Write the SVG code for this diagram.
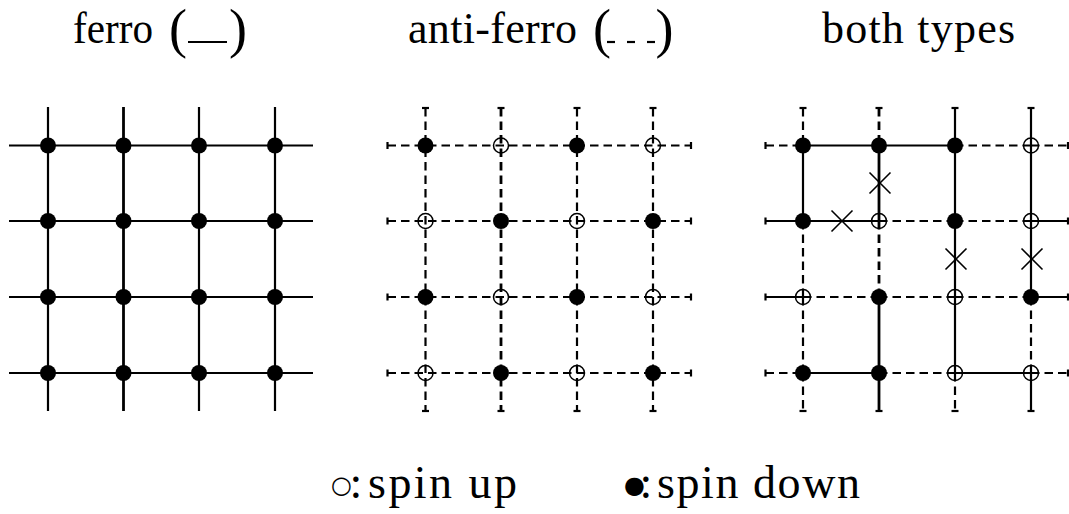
<svg xmlns="http://www.w3.org/2000/svg" width="1069" height="514" viewBox="0 0 1069 514">
<style>
text{font-family:"Liberation Serif","Times New Roman",serif;fill:#000}
.t{font-size:44px}
.p{font-size:54px}
.lg{font-size:46px}
.sym{font-size:24px;font-family:"DejaVu Sans",sans-serif;letter-spacing:-8px}
.s{stroke:#000;stroke-width:2.2;fill:none}
.s2{stroke:#000;stroke-width:2.8;fill:none}
.d{stroke:#000;stroke-width:2.2;fill:none;stroke-dasharray:8.5 5}
.d2{stroke:#000;stroke-width:2.8;fill:none;stroke-dasharray:8.5 5}
.tk{stroke:#000;stroke-width:2.2}
.f{fill:#000}
.o{fill:none;stroke:#000;stroke-width:1.5}
.x{stroke:#000;stroke-width:1.6}
</style>
<rect width="1069" height="514" fill="#fff"/>

<g id="titles">
<text class="t" y="43"><tspan x="73" textLength="80" lengthAdjust="spacingAndGlyphs">ferro</tspan><tspan class="p" x="169" y="47">(</tspan></text>
<line x1="188" y1="42" x2="227" y2="42" class="s"/>
<text class="p" x="229" y="47">)</text>
<text class="t" y="43"><tspan x="408" textLength="169" lengthAdjust="spacing">anti-ferro</tspan><tspan class="p" x="593" y="47">(</tspan></text>
<line x1="607" y1="42" x2="615" y2="42" class="s"/>
<line x1="627" y1="42" x2="635" y2="42" class="s"/>
<line x1="647" y1="42" x2="655" y2="42" class="s"/>
<text class="p" x="655.5" y="47">)</text>
<text class="t" x="822" y="43" textLength="193" lengthAdjust="spacing">both types</text>
</g>

<g id="connectors">
<!-- grid 1: ferro -->
<line x1="9" y1="145.5" x2="313" y2="145.5" class="s"/>
<line x1="9" y1="221" x2="313" y2="221" class="s"/>
<line x1="9" y1="297" x2="313" y2="297" class="s"/>
<line x1="9" y1="373" x2="313" y2="373" class="s"/>
<line x1="48" y1="107" x2="48" y2="411" class="s"/>
<line x1="123.5" y1="107" x2="123.5" y2="411" class="s2"/>
<line x1="199" y1="107" x2="199" y2="411" class="s"/>
<line x1="275" y1="107" x2="275" y2="411" class="s"/>

<!-- grid 2: anti-ferro -->
<line x1="387.5" y1="145.5" x2="691" y2="145.5" class="d"/>
<line x1="387.5" y1="221" x2="691" y2="221" class="d"/>
<line x1="387.5" y1="297" x2="691" y2="297" class="d"/>
<line x1="387.5" y1="373" x2="691" y2="373" class="d"/>
<line x1="425.5" y1="108" x2="425.5" y2="411" class="d"/>
<line x1="501" y1="108" x2="501" y2="411" class="d2"/>
<line x1="577" y1="108" x2="577" y2="411" class="d"/>
<line x1="653" y1="108" x2="653" y2="411" class="d"/>
<g class="tk">
<line x1="387.5" y1="142" x2="387.5" y2="149"/><line x1="691" y1="142" x2="691" y2="149"/>
<line x1="387.5" y1="217.5" x2="387.5" y2="224.5"/><line x1="691" y1="217.5" x2="691" y2="224.5"/>
<line x1="387.5" y1="293.5" x2="387.5" y2="300.5"/><line x1="691" y1="293.5" x2="691" y2="300.5"/>
<line x1="387.5" y1="369.5" x2="387.5" y2="376.5"/><line x1="691" y1="369.5" x2="691" y2="376.5"/>
<line x1="422" y1="108" x2="429" y2="108"/><line x1="422" y1="411" x2="429" y2="411"/>
<line x1="497.5" y1="108" x2="504.5" y2="108"/><line x1="497.5" y1="411" x2="504.5" y2="411"/>
<line x1="573.5" y1="108" x2="580.5" y2="108"/><line x1="573.5" y1="411" x2="580.5" y2="411"/>
<line x1="649.5" y1="108" x2="656.5" y2="108"/><line x1="649.5" y1="411" x2="656.5" y2="411"/>
</g>

<!-- grid 3: both types -->
<line x1="765.5" y1="145.5" x2="803" y2="145.5" class="d"/>
<line x1="803" y1="145.5" x2="879" y2="145.5" class="s"/>
<line x1="879" y1="145.5" x2="955" y2="145.5" class="s"/>
<line x1="955" y1="145.5" x2="1031" y2="145.5" class="d"/>
<line x1="1031" y1="145.5" x2="1068.5" y2="145.5" class="d"/>
<line x1="765.5" y1="221" x2="803" y2="221" class="s"/>
<line x1="803" y1="221" x2="879" y2="221" class="s"/>
<line x1="879" y1="221" x2="955" y2="221" class="d"/>
<line x1="955" y1="221" x2="1031" y2="221" class="d"/>
<line x1="1031" y1="221" x2="1068.5" y2="221" class="s"/>
<line x1="765.5" y1="297" x2="803" y2="297" class="s"/>
<line x1="803" y1="297" x2="879" y2="297" class="d"/>
<line x1="879" y1="297" x2="955" y2="297" class="d"/>
<line x1="955" y1="297" x2="1031" y2="297" class="d"/>
<line x1="1031" y1="297" x2="1068.5" y2="297" class="s"/>
<line x1="765.5" y1="373" x2="803" y2="373" class="d"/>
<line x1="803" y1="373" x2="879" y2="373" class="s"/>
<line x1="879" y1="373" x2="955" y2="373" class="d"/>
<line x1="955" y1="373" x2="1031" y2="373" class="s"/>
<line x1="1031" y1="373" x2="1068.5" y2="373" class="d"/>
<line x1="803" y1="108" x2="803" y2="145.5" class="d"/>
<line x1="803" y1="145.5" x2="803" y2="221" class="s"/>
<line x1="803" y1="221" x2="803" y2="297" class="d"/>
<line x1="803" y1="297" x2="803" y2="373" class="d"/>
<line x1="803" y1="373" x2="803" y2="411" class="d"/>
<line x1="879" y1="108" x2="879" y2="145.5" class="d2"/>
<line x1="879" y1="145.5" x2="879" y2="221" class="s2"/>
<line x1="879" y1="221" x2="879" y2="297" class="d2"/>
<line x1="879" y1="297" x2="879" y2="373" class="s2"/>
<line x1="879" y1="373" x2="879" y2="411" class="s2"/>
<line x1="955" y1="108" x2="955" y2="145.5" class="s"/>
<line x1="955" y1="145.5" x2="955" y2="221" class="s"/>
<line x1="955" y1="221" x2="955" y2="297" class="s"/>
<line x1="955" y1="297" x2="955" y2="373" class="s"/>
<line x1="955" y1="373" x2="955" y2="411" class="d"/>
<line x1="1031" y1="108" x2="1031" y2="145.5" class="s"/>
<line x1="1031" y1="145.5" x2="1031" y2="221" class="s"/>
<line x1="1031" y1="221" x2="1031" y2="297" class="s"/>
<line x1="1031" y1="297" x2="1031" y2="373" class="d"/>
<line x1="1031" y1="373" x2="1031" y2="411" class="s"/>
<g class="tk">
<line x1="765.5" y1="142" x2="765.5" y2="149"/><line x1="1068" y1="142" x2="1068" y2="149"/>
<line x1="765.5" y1="217.5" x2="765.5" y2="224.5"/><line x1="1068" y1="217.5" x2="1068" y2="224.5"/>
<line x1="765.5" y1="293.5" x2="765.5" y2="300.5"/><line x1="1068" y1="293.5" x2="1068" y2="300.5"/>
<line x1="765.5" y1="369.5" x2="765.5" y2="376.5"/><line x1="1068" y1="369.5" x2="1068" y2="376.5"/>
<line x1="799.5" y1="108" x2="806.5" y2="108"/><line x1="799.5" y1="411" x2="806.5" y2="411"/>
<line x1="875.5" y1="108" x2="882.5" y2="108"/><line x1="875.5" y1="411" x2="882.5" y2="411"/>
<line x1="951.5" y1="108" x2="958.5" y2="108"/><line x1="951.5" y1="411" x2="958.5" y2="411"/>
<line x1="1027.5" y1="108" x2="1034.5" y2="108"/><line x1="1027.5" y1="411" x2="1034.5" y2="411"/>
</g>
<g class="x">
<path d="M831.5,210.5 L852.5,231.5 M852.5,210.5 L831.5,231.5"/>
<path d="M869.5,172.5 L890.5,193.5 M890.5,172.5 L869.5,193.5"/>
<path d="M945.5,248.5 L966.5,269.5 M966.5,248.5 L945.5,269.5"/>
<path d="M1021.5,248.5 L1042.5,269.5 M1042.5,248.5 L1021.5,269.5"/>
</g>
</g>

<g id="g1-r1c1"><circle cx="48" cy="145.5" r="8" class="f"/></g>
<g id="g1-r1c2"><circle cx="123.5" cy="145.5" r="8" class="f"/></g>
<g id="g1-r1c3"><circle cx="199" cy="145.5" r="8" class="f"/></g>
<g id="g1-r1c4"><circle cx="275" cy="145.5" r="8" class="f"/></g>
<g id="g1-r2c1"><circle cx="48" cy="221" r="8" class="f"/></g>
<g id="g1-r2c2"><circle cx="123.5" cy="221" r="8" class="f"/></g>
<g id="g1-r2c3"><circle cx="199" cy="221" r="8" class="f"/></g>
<g id="g1-r2c4"><circle cx="275" cy="221" r="8" class="f"/></g>
<g id="g1-r3c1"><circle cx="48" cy="297" r="8" class="f"/></g>
<g id="g1-r3c2"><circle cx="123.5" cy="297" r="8" class="f"/></g>
<g id="g1-r3c3"><circle cx="199" cy="297" r="8" class="f"/></g>
<g id="g1-r3c4"><circle cx="275" cy="297" r="8" class="f"/></g>
<g id="g1-r4c1"><circle cx="48" cy="373" r="8" class="f"/></g>
<g id="g1-r4c2"><circle cx="123.5" cy="373" r="8" class="f"/></g>
<g id="g1-r4c3"><circle cx="199" cy="373" r="8" class="f"/></g>
<g id="g1-r4c4"><circle cx="275" cy="373" r="8" class="f"/></g>

<g id="g2-r1c1"><circle cx="425.5" cy="145.5" r="8" class="f"/></g>
<g id="g2-r1c2"><circle cx="501" cy="145.5" r="7.5" class="o"/></g>
<g id="g2-r1c3"><circle cx="577" cy="145.5" r="8" class="f"/></g>
<g id="g2-r1c4"><circle cx="653" cy="145.5" r="7.5" class="o"/></g>
<g id="g2-r2c1"><circle cx="425.5" cy="221" r="7.5" class="o"/></g>
<g id="g2-r2c2"><circle cx="501" cy="221" r="8" class="f"/></g>
<g id="g2-r2c3"><circle cx="577" cy="221" r="7.5" class="o"/></g>
<g id="g2-r2c4"><circle cx="653" cy="221" r="8" class="f"/></g>
<g id="g2-r3c1"><circle cx="425.5" cy="297" r="8" class="f"/></g>
<g id="g2-r3c2"><circle cx="501" cy="297" r="7.5" class="o"/></g>
<g id="g2-r3c3"><circle cx="577" cy="297" r="8" class="f"/></g>
<g id="g2-r3c4"><circle cx="653" cy="297" r="7.5" class="o"/></g>
<g id="g2-r4c1"><circle cx="425.5" cy="373" r="7.5" class="o"/></g>
<g id="g2-r4c2"><circle cx="501" cy="373" r="8" class="f"/></g>
<g id="g2-r4c3"><circle cx="577" cy="373" r="7.5" class="o"/></g>
<g id="g2-r4c4"><circle cx="653" cy="373" r="8" class="f"/></g>

<g id="g3-r1c1"><circle cx="803" cy="145.5" r="8" class="f"/></g>
<g id="g3-r1c2"><circle cx="879" cy="145.5" r="8" class="f"/></g>
<g id="g3-r1c3"><circle cx="955" cy="145.5" r="8" class="f"/></g>
<g id="g3-r1c4"><circle cx="1031" cy="145.5" r="7.5" class="o"/></g>
<g id="g3-r2c1"><circle cx="803" cy="221" r="8" class="f"/></g>
<g id="g3-r2c2"><circle cx="879" cy="221" r="7.5" class="o"/></g>
<g id="g3-r2c3"><circle cx="955" cy="221" r="8" class="f"/></g>
<g id="g3-r2c4"><circle cx="1031" cy="221" r="7.5" class="o"/></g>
<g id="g3-r3c1"><circle cx="803" cy="297" r="7.5" class="o"/></g>
<g id="g3-r3c2"><circle cx="879" cy="297" r="8" class="f"/></g>
<g id="g3-r3c3"><circle cx="955" cy="297" r="7.5" class="o"/></g>
<g id="g3-r3c4"><circle cx="1031" cy="297" r="8" class="f"/></g>
<g id="g3-r4c1"><circle cx="803" cy="373" r="8" class="f"/></g>
<g id="g3-r4c2"><circle cx="879" cy="373" r="8" class="f"/></g>
<g id="g3-r4c3"><circle cx="955" cy="373" r="7.5" class="o"/></g>
<g id="g3-r4c4"><circle cx="1031" cy="373" r="7.5" class="o"/></g>

<g id="legend">
<text class="lg" y="498"><tspan class="sym" x="331" y="493">○</tspan><tspan x="349.5" y="498">:</tspan><tspan x="368" textLength="149" lengthAdjust="spacing">spin up</tspan></text>
<text class="lg" y="498"><tspan class="sym" x="624" y="493">●</tspan><tspan x="639.5" y="498">:</tspan><tspan x="657" textLength="203" lengthAdjust="spacing">spin down</tspan></text>
</g>
</svg>
